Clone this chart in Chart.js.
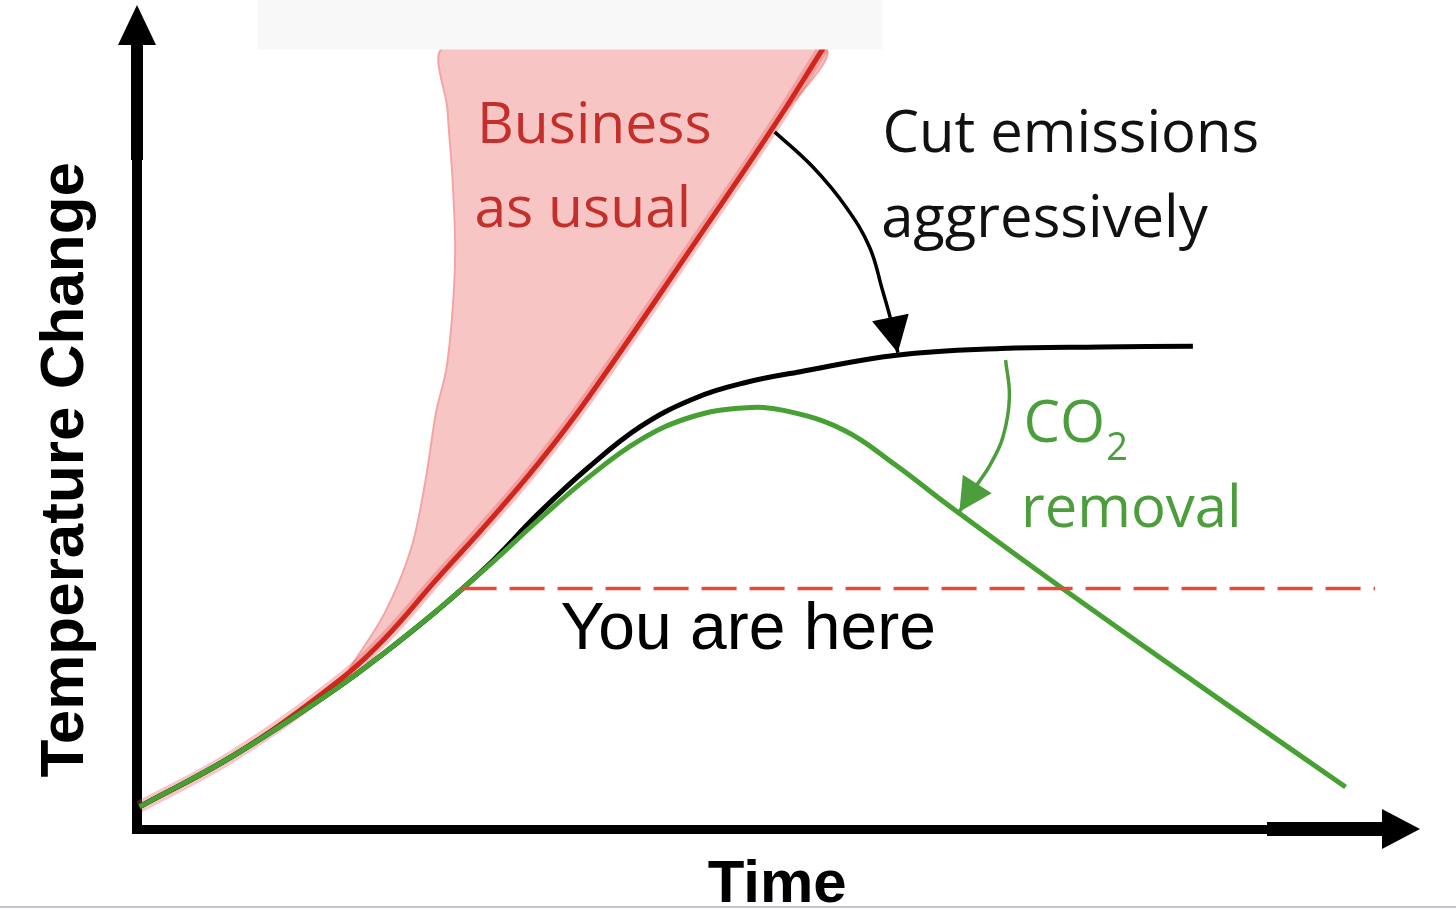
<!DOCTYPE html>
<html>
<head>
<meta charset="utf-8">
<script src="https://cdn.jsdelivr.net/npm/chart.js@4.4.1/dist/chart.umd.min.js"></script>
<style>
  html, body { margin: 0; padding: 0; background: #fff; }
</style>
</head>
<body>
<canvas id="canvas" width="1456" height="909"></canvas>
<script>
const canvas = document.getElementById("canvas").getContext("2d");

// values, time and temperature change both on a 0-100 scale
const bau_time = [0.2, 7.4, 15.4, 19.3, 23.3, 27.3, 31.3, 35.2, 43.6, 49.6, 53.5];
const bau_temp = [2.7, 8.8, 17.6, 23.1, 30.2, 37.1, 44.4, 52.4, 71.4, 85.2, 94.8];

// outline of the pink spread around business as usual (closed shape)
const band_time = [16.5, 19.3, 21.4, 22.5, 23.3, 24.1, 24.6, 24.8, 24.6, 24.2, 24.0, 53.5, 49.6, 43.6, 35.2, 31.3, 27.3, 23.3, 19.3, 16.5];
const band_temp = [19.3, 26.2, 34.2, 42.4, 50.5, 55.7, 63.0, 70.3, 78.8, 87.3, 94.8, 94.8, 85.2, 71.4, 52.4, 44.4, 37.1, 30.2, 23.1, 19.3];

const cut_time = [0.2, 7.4, 15.4, 19.3, 23.3, 27.3, 31.3, 35.2, 39.2, 43.2, 47.2, 51.7, 59.2, 67.3, 75.1, 82.3];
const cut_temp = [2.7, 8.8, 16.9, 21.4, 26.4, 31.9, 38.3, 43.9, 48.8, 52.1, 54.1, 55.5, 57.5, 58.3, 58.5, 58.6];

const removal_time = [0.2, 7.4, 15.4, 19.3, 23.3, 27.3, 31.3, 35.2, 39.2, 43.2, 47.2, 50.4, 55.1, 59.1, 63.4, 72.3, 84.4, 94.2];
const removal_temp = [2.7, 8.8, 16.9, 21.4, 26.4, 31.8, 37.5, 42.7, 47.2, 50.0, 51.1, 50.8, 48.4, 44.2, 39.1, 29.0, 15.7, 5.1];

const here_time = [25.3, 96.5];
const here_temp = [29.2, 29.2];

const cut_arrow_time = [49.7, 52.7, 55.3, 57.1, 58.1, 58.8, 59.3];
const cut_arrow_temp = [84.6, 80.3, 75.4, 70.6, 65.4, 61.5, 57.8];

const removal_arrow_time = [67.7, 68.0, 67.5, 66.5, 65.3, 64.1];
const removal_arrow_temp = [56.9, 52.4, 47.6, 44.2, 41.4, 38.5];

const notes = [
  { text: "Business", t: 26.5, temp: 83.3, color: "#c3302b", font: "57px 'Open Sans'" },
  { text: "as usual", t: 26.3, temp: 73.1, color: "#c3302b", font: "57px 'Open Sans'" },
  { text: "Cut emissions", t: 58.1, temp: 82.2, color: "#111", font: "58px 'Open Sans'" },
  { text: "aggressively", t: 58.0, temp: 71.8, color: "#111", font: "58px 'Open Sans'" },
  { text: "removal", t: 68.9, temp: 36.7, color: "#4c9d3c", font: "58px 'Open Sans'" },
  { text: "You are here", t: 33.0, temp: 21.8, color: "#000", font: "66px 'Liberation Sans'" },
];

const pts = (xs, ys) => xs.map((x, i) => ({ x: x, y: ys[i] }));

const arrows_and_text = {
  id: "arrows_and_text",
  beforeDraw: (chart) => {
    const ctx = chart.ctx;
    ctx.save();
    ctx.fillStyle = "#fff";
    ctx.fillRect(0, 0, chart.width, chart.height);
    ctx.fillStyle = "#c4c4cf";
    ctx.fillRect(0, chart.height - 3, chart.width, 2);
    ctx.restore();
  },
  beforeDatasetsDraw: (chart) => {
    const ctx = chart.ctx;
    const a = chart.chartArea;
    const x0 = chart.scales.x.getPixelForValue(0);
    const y0 = chart.scales.y.getPixelForValue(0);
    ctx.save();
    ctx.fillStyle = "#000";
    // vertical axis
    ctx.fillRect(x0 - 5, a.top + 35, 10, y0 - a.top - 30);
    ctx.fillRect(x0 - 6, a.top + 35, 12, 120);
    ctx.beginPath();
    ctx.moveTo(x0, a.top);
    ctx.lineTo(x0 - 19, a.top + 40);
    ctx.lineTo(x0 + 19, a.top + 40);
    ctx.closePath();
    ctx.fill();
    // horizontal axis
    ctx.fillRect(x0 - 5, y0 - 4, a.right - x0 - 30, 9);
    ctx.fillRect(a.right - 153, y0 - 7, 120, 14);
    ctx.beginPath();
    ctx.moveTo(a.right, y0);
    ctx.lineTo(a.right - 38, y0 - 20);
    ctx.lineTo(a.right - 38, y0 + 20);
    ctx.closePath();
    ctx.fill();
    ctx.restore();
  },
  afterDatasetsDraw: (chart) => {
    const ctx = chart.ctx;
    const xs = chart.scales.x;
    const ys = chart.scales.y;
    ctx.save();

    // pale panel over the top of the plot
    ctx.fillStyle = "#f8f8f8";
    ctx.fillRect(xs.getPixelForValue(9.4), 0, xs.getPixelForValue(58.1) - xs.getPixelForValue(9.4), ys.getPixelForValue(94.6));

    // arrow heads at the end of the arrow datasets
    chart.data.datasets.forEach((ds, i) => {
      if (!ds.head) return;
      const p = chart.getDatasetMeta(i).data;
      const tip = p[p.length - 1];
      const prev = p[p.length - 2];
      const ang = Math.atan2(tip.y - prev.y, tip.x - prev.x);
      const len = ds.head, half = ds.head * 0.52;
      ctx.fillStyle = ds.borderColor;
      ctx.beginPath();
      ctx.moveTo(tip.x, tip.y);
      ctx.lineTo(tip.x - len * Math.cos(ang) + half * Math.sin(ang), tip.y - len * Math.sin(ang) - half * Math.cos(ang));
      ctx.lineTo(tip.x - len * Math.cos(ang) - half * Math.sin(ang), tip.y - len * Math.sin(ang) + half * Math.cos(ang));
      ctx.closePath();
      ctx.fill();
    });

    ctx.textBaseline = "alphabetic";
    ctx.textAlign = "left";
    notes.forEach((n) => {
      ctx.font = n.font;
      ctx.fillStyle = n.color;
      ctx.fillText(n.text, xs.getPixelForValue(n.t), ys.getPixelForValue(n.temp));
    });

    // CO2 with subscript
    ctx.fillStyle = "#4c9d3c";
    ctx.font = "58px 'Open Sans'";
    const cx = xs.getPixelForValue(69.1), cy = ys.getPixelForValue(47.0);
    ctx.fillText("CO", cx, cy);
    const w = ctx.measureText("CO").width;
    ctx.font = "38px 'Open Sans'";
    ctx.fillText("2", cx + w + 1, cy + 18);

    // axis titles
    ctx.fillStyle = "#000";
    ctx.font = "bold 60px 'Liberation Sans'";
    ctx.textAlign = "center";
    ctx.fillText("Time", xs.getPixelForValue(49.9), ys.getPixelForValue(-8.9));
    ctx.translate(xs.getPixelForValue(-4.2), ys.getPixelForValue(43.6));
    ctx.rotate(-Math.PI / 2);
    ctx.font = "bold 62px 'Liberation Sans'";
    ctx.fillText("Temperature Change", 0, 0);
    ctx.restore();
  },
};

const chart = new Chart(canvas, {
  type: "line",
  data: {
    datasets: [
      {
        label: "CO2 removal arrow",
        data: pts(removal_arrow_time, removal_arrow_temp),
        borderColor: "#4c9d3c",
        borderWidth: 3.5,
        tension: 0.4,
        head: 33,
        order: 1,
      },
      {
        label: "Cut emissions arrow",
        data: pts(cut_arrow_time, cut_arrow_temp),
        borderColor: "#000",
        borderWidth: 3.5,
        tension: 0.4,
        head: 36,
        order: 2,
      },
      {
        label: "You are here",
        data: pts(here_time, here_temp),
        borderColor: "#e8473a",
        borderWidth: 3.5,
        borderDash: [35, 13],
        order: 3,
      },
      {
        label: "CO2 removal",
        data: pts(removal_time, removal_temp),
        borderColor: "#46a032",
        borderWidth: 5,
        tension: 0.4,
        order: 4,
      },
      {
        label: "Cut emissions aggressively",
        data: pts(cut_time, cut_temp),
        borderColor: "#000",
        borderWidth: 5,
        tension: 0.4,
        order: 5,
      },
      {
        label: "Business as usual",
        data: pts(bau_time, bau_temp),
        borderColor: "#d2261d",
        borderWidth: 5,
        tension: 0.4,
        order: 6,
      },
      {
        label: "Business as usual halo",
        data: pts(bau_time, bau_temp),
        borderColor: "rgba(232, 90, 90, 0.35)",
        borderWidth: 12,
        tension: 0.4,
        order: 7,
      },
      {
        label: "Business as usual spread",
        data: pts(band_time, band_temp),
        borderColor: "#f3a5a5",
        borderWidth: 2,
        backgroundColor: "#f8c5c5",
        fill: "shape",
        tension: 0.3,
        order: 8,
      },
    ],
  },
  options: {
    responsive: false,
    animation: false,
    devicePixelRatio: 1,
    layout: { padding: { left: 137, right: 36, top: 5, bottom: 80 } },
    elements: { point: { radius: 0 } },
    plugins: { legend: { display: false }, tooltip: { enabled: false } },
    scales: {
      x: { type: "linear", min: 0, max: 100, display: false },
      y: { type: "linear", min: 0, max: 100, display: false },
    },
  },
  plugins: [arrows_and_text],
});
</script>
</body>
</html>
